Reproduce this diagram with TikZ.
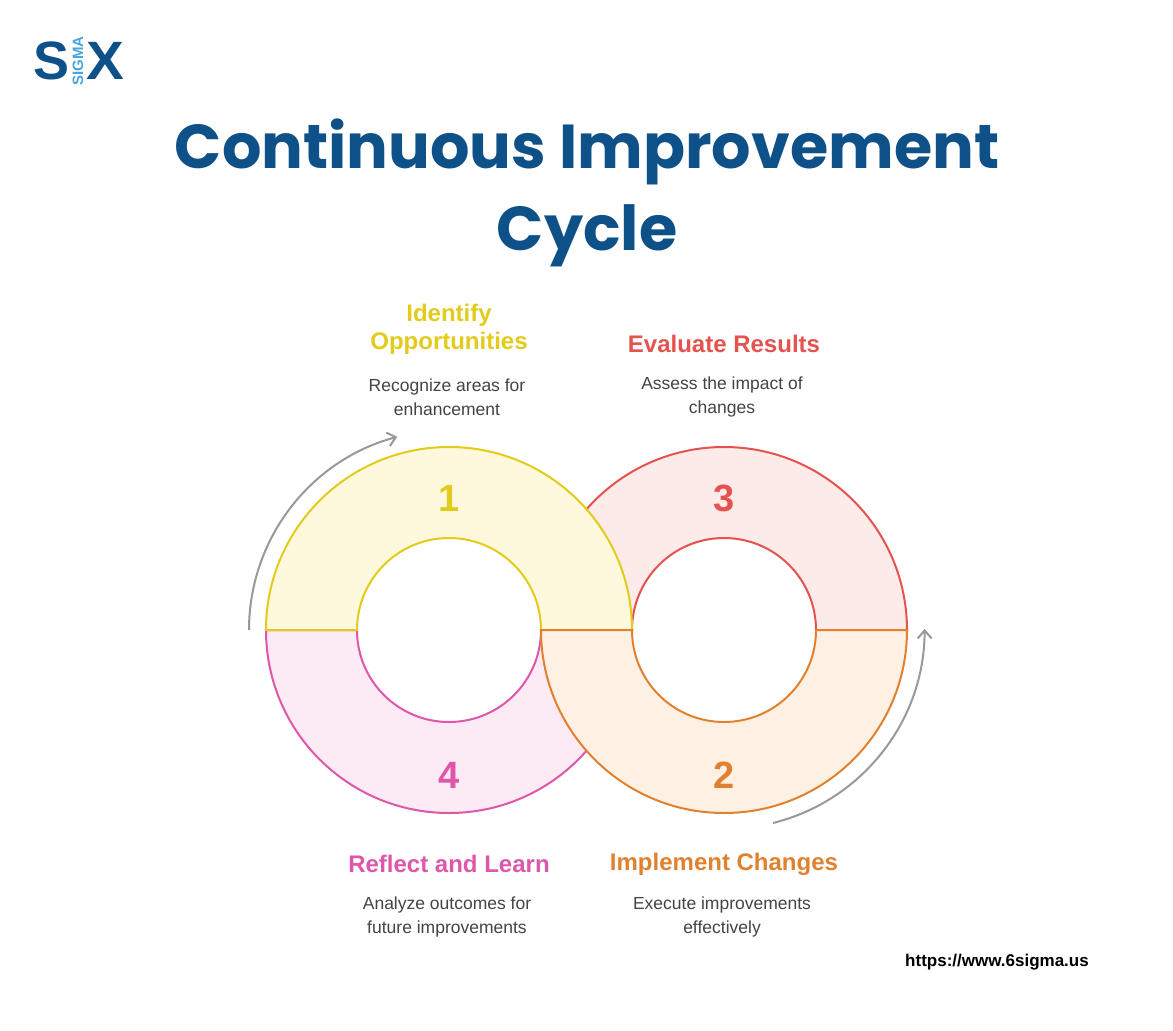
\documentclass[tikz,border=0pt]{standalone}
\usepackage{fontspec}
\setmainfont{Liberation Sans}
\newfontfamily\titlefont{Poppins}
\usetikzlibrary{arrows.meta}
\definecolor{navy}{HTML}{0E5189}
\definecolor{lblue}{HTML}{4BA3DB}
\definecolor{cyel}{HTML}{E2CB1A}
\definecolor{fyel}{HTML}{FEF9DC}
\definecolor{cred}{HTML}{E5534F}
\definecolor{fred}{HTML}{FDEBEA}
\definecolor{cpink}{HTML}{DE57A8}
\definecolor{fpink}{HTML}{FCEAF5}
\definecolor{corg}{HTML}{E0812F}
\definecolor{forg}{HTML}{FEF0E2}
\definecolor{txt}{HTML}{444444}
\begin{document}
\begin{tikzpicture}[x=1pt,y=-1pt,
  head/.style={font=\fontsize{24}{28}\selectfont\bfseries, align=center},
  body/.style={font=\fontsize{17.5}{24}\selectfont, text=txt, align=center},
  num/.style={font=\fontsize{38}{40}\selectfont\bfseries},
  cyc/.style={draw=gray!80, line width=2pt, -{Straight Barb[length=8pt,width=14pt]}}]
\useasboundingbox[fill=white] (0,0) rectangle (1173,1031);
% logo
\node[anchor=east, text=navy, font=\fontsize{54}{54}\selectfont\bfseries, inner sep=0] (ls) at (70,61) {S};
\node[rotate=90, text=lblue, font=\fontsize{15}{15}\selectfont\bfseries, inner sep=0] (lg) at (78,61) {SIGMA};
\node[anchor=west, text=navy, font=\fontsize{54}{54}\selectfont\bfseries, inner sep=0, xscale=1.05] (lx) at (86,61) {X};
% title
\node[text=navy, font=\titlefont\fontsize{62}{82}\selectfont\bfseries, align=center] (title) at (587,193) {Continuous Improvement\\Cycle};
% rings
\fill[fred, draw=cred, line width=2pt] (632,630) arc[start angle=180,end angle=360,radius=92] -- (907,630) arc[start angle=360,end angle=180,radius=183] -- cycle;
\fill[fpink, draw=cpink, line width=2pt] (357,630) arc[start angle=180,end angle=0,radius=92] -- (632,630) arc[start angle=0,end angle=180,radius=183] -- cycle;
\fill[fyel, draw=cyel, line width=2pt] (357,630) arc[start angle=180,end angle=360,radius=92] -- (632,630) arc[start angle=360,end angle=180,radius=183] -- cycle;
\fill[forg, draw=corg, line width=2pt] (632,630) arc[start angle=180,end angle=0,radius=92] -- (907,630) arc[start angle=0,end angle=180,radius=183] -- cycle;
\node[num, text=cyel] (n1) at (449,498) {1};
\node[num, text=cred] (n3) at (724,498) {3};
\node[num, text=cpink] (n4) at (449,775) {4};
\node[num, text=corg] (n2) at (724,775) {2};
% cycle arrows
\draw[cyc] (249,630) arc[start angle=180,end angle=255,radius=200];
\draw[cyc] (773,823) arc[start angle=76,end angle=0,radius=200];
% labels
\node[head, text=cyel] (h1) at (449,329) {Identify\\Opportunities};
\node[body] (b1) at (447,397) {Recognize areas for\\enhancement};
\node[head, text=cred] (h3) at (724,344) {Evaluate Results};
\node[body] (b3) at (722,397) {Assess the impact of\\changes};
\node[head, text=cpink] (h4) at (449,864) {Reflect and Learn};
\node[body] (b4) at (447,917) {Analyze outcomes for\\future improvements};
\node[head, text=corg] (h2) at (724,864) {Implement Changes};
\node[body] (b2) at (722,917) {Execute improvements\\effectively};
\node[font=\fontsize{17}{20}\selectfont\bfseries, text=black] (url) at (997,962) {https://www.6sigma.us};
\end{tikzpicture}
\end{document}
